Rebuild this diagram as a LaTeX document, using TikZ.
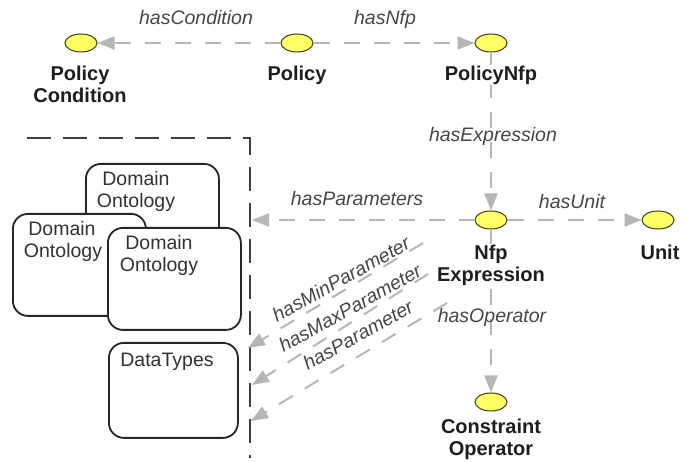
\documentclass[tikz,border=0pt]{standalone}
\usepackage{fontspec}
\setmainfont{Liberation Sans}
\usetikzlibrary{arrows.meta,shapes.geometric}

\definecolor{conceptfill}{RGB}{255,255,102}
\definecolor{conceptline}{RGB}{60,60,20}
\definecolor{relline}{RGB}{182,182,182}
\definecolor{rellabel}{RGB}{70,70,70}
\definecolor{conceptlabel}{RGB}{30,30,30}
\definecolor{boxtext}{RGB}{50,50,50}

\begin{document}
\begin{tikzpicture}[x=1pt,y=-1pt,
  concept/.style={ellipse, draw=conceptline, fill=conceptfill, line width=1pt,
    minimum width=32pt, minimum height=18pt, inner sep=0pt},
  clabel/.style={font=\fontsize{20}{22}\selectfont\bfseries, text=conceptlabel,
    align=center, fill=white, inner sep=1pt, anchor=north},
  rlabel/.style={font=\fontsize{19.5}{22}\selectfont\itshape, text=rellabel, inner sep=0pt},
  rel/.style={draw=relline, line width=2pt, dash pattern=on 16pt off 14pt,
    -{Triangle[length=17pt,width=13pt]}},
  onto/.style={draw=black!85, line width=1.8pt, rounded corners=15pt, fill=white,
    anchor=north west, inner sep=0pt},
  otext/.style={font=\fontsize{19.5}{22}\selectfont, text=boxtext, anchor=base, inner sep=0pt},
  boundary/.style={draw=black!75, line width=1.6pt, dash pattern=on 24pt off 12pt}
]
\useasboundingbox (0,0) rectangle (681,462);

% dashed frame of the domain ontologies
\coordinate (bStart) at (27,138);
\coordinate (bCorner) at (250,138);
\coordinate (bEnd) at (250,458);
\draw[boundary] (bStart) -- (bCorner) -- (bEnd);

% ontology boxes
\node[onto, minimum width=133pt, minimum height=117pt] (dom1) at (85,163) {};
\node[otext] (dom1a) at (136,186) {Domain};
\node[otext] (dom1b) at (136,208) {Ontology};
\node[onto, minimum width=133pt, minimum height=102pt] (dom2) at (12,213) {};
\node[otext] (dom2a) at (62,236) {Domain};
\node[otext] (dom2b) at (63,258) {Ontology};
\node[onto, minimum width=133pt, minimum height=102pt] (dom3) at (107,227) {};
\node[otext] (dom3a) at (159,250) {Domain};
\node[otext] (dom3b) at (159,272) {Ontology};
\node[onto, minimum width=129pt, minimum height=95pt] (dtypes) at (108,342) {};
\node[otext] (dtypesa) at (167,367) {DataTypes};

% concepts
\node[concept] (pc) at (81,43) {};
\node[concept] (pol) at (297,43) {};
\node[concept] (pnfp) at (491,43) {};
\node[concept] (nfp) at (491,220) {};
\node[concept] (unit) at (658,220) {};
\node[concept] (cop) at (491,402) {};

% relation end points
\coordinate (paramEnd) at (252,220);
\coordinate (minStart) at (423,243);
\coordinate (minEnd) at (248,348);
\coordinate (maxStart) at (428,274);
\coordinate (maxEnd) at (252,385);
\coordinate (parStart) at (447,303);
\coordinate (parEnd) at (251,421);

% relations
\draw[rel] (pol) -- (pc);
\draw[rel] (pol) -- (pnfp);
\draw[rel] (pnfp) -- (nfp);
\draw[rel] (nfp) -- (unit);
\draw[rel] (nfp) -- (cop);
\draw[rel] (nfp) -- (paramEnd);
\draw[rel] (minStart) -- (minEnd);
\draw[rel] (maxStart) -- (maxEnd);
\draw[rel] (parStart) -- (parEnd);

% relation labels
\node[rlabel, anchor=base] (lcond) at (196,25) {hasCondition};
\node[rlabel, anchor=base] (lnfp) at (385,25) {hasNfp};
\node[rlabel, anchor=base] (lexpr) at (493,142) {hasExpression};
\node[rlabel, anchor=base] (lparams) at (357,206) {hasParameters};
\node[rlabel, anchor=base] (lunit) at (572,209) {hasUnit};
\node[rlabel, anchor=base] (lop) at (492,323) {hasOperator};
\node[rlabel, rotate=29] (lmin) at (341,279) {hasMinParameter};
\node[rlabel, rotate=29] (lmax) at (350,308) {hasMaxParameter};
\node[rlabel, rotate=29] (lpar) at (358,335) {hasParameter};

% concept labels
\node[clabel] (tpc) at (80,64.5) {Policy\\Condition};
\node[clabel] (tpol) at (297,64.5) {Policy};
\node[clabel] (tpnfp) at (491,64.5) {PolicyNfp};
\node[clabel] (tnfp) at (491,243.5) {Nfp\\Expression};
\node[clabel] (tunit) at (660,243.5) {Unit};
\node[clabel] (tcop) at (491,417.5) {Constraint\\Operator};
\end{tikzpicture}
\end{document}
